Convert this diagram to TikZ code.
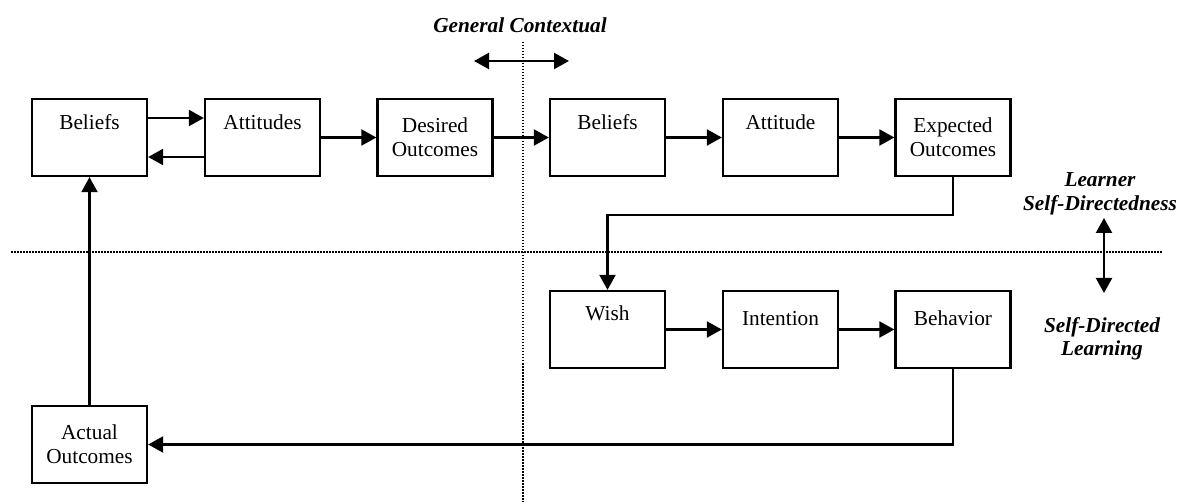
\documentclass[tikz,border=0pt]{standalone}
\usepackage{fontspec}
\setmainfont{Liberation Serif}
\usetikzlibrary{arrows.meta}
\begin{document}
\begin{tikzpicture}[x=1pt,y=-1pt,
  font=\fontsize{21.3}{25}\selectfont,
  box/.style={draw, line width=2.3pt, minimum width=115pt, minimum height=77pt, inner sep=0pt, align=center},
  topbox/.style={box, text height=31pt, text depth=46pt},
  lowbox/.style={box, text height=35pt, text depth=42pt},
  arr/.style={line width=2.2pt, -{Triangle[length=15pt,width=16pt]}},
  darr/.style={line width=2.2pt, {Triangle[length=15pt,width=16pt]}-{Triangle[length=15pt,width=16pt]}},
  dotline/.style={line width=1.5pt, dash pattern=on 1.5pt off 1.5pt},
  lab/.style={font=\fontsize{21.3}{25}\selectfont\bfseries\itshape, anchor=base}]
\useasboundingbox (0,0) rectangle (1181,502);
% dotted dividers
\coordinate (vt) at (523,42);
\coordinate (vb) at (523,502);
\coordinate (hl) at (11,252);
\coordinate (hr) at (1162,252);
\draw[dotline] (vt) -- (vb);
\draw[dotline] (hl) -- (hr);
% boxes
\node[topbox] (b1) at (89.5,137.5) {Beliefs};
\node[topbox] (at1) at (262.5,137.5) {Attitudes};
\node[box] (des) at (435,137.5) {Desired\\[-1pt]Outcomes};
\node[topbox] (b2) at (607.5,137.5) {Beliefs};
\node[topbox] (at2) at (780.5,137.5) {Attitude};
\node[box] (exp) at (953,137.5) {\raisebox{-3pt}{Expected}\\[-1pt]\raisebox{-3pt}{Outcomes}};
\node[box, text height=30pt, text depth=47pt] (wish) at (607.5,329.5) {Wish};
\node[lowbox] (int) at (780.5,329.5) {Intention};
\node[lowbox] (beh) at (953,329.5) {Behavior};
\node[box] (act) at (89.5,444.5) {Actual\\[-1pt]Outcomes};
% top row arrows
\draw[arr] (b1.east |- 0,118) -- (at1.west |- 0,118);
\draw[arr] (at1.west |- 0,157) -- (b1.east |- 0,157);
\draw[arr] (at1) -- (des);
\draw[arr] (des) -- (b2);
\draw[arr] (b2) -- (at2);
\draw[arr] (at2) -- (exp);
% expected -> wish
\draw[arr] (exp.south) -- (953,215) -- (607.5,215) -- (wish.north);
% bottom row
\draw[arr] (wish) -- (int);
\draw[arr] (int) -- (beh);
\draw[arr] (beh.south) -- (beh.south |- act.east) -- (act.east);
\draw[arr] (act.north) -- (b1.south);
% labels
\node[lab] (gc) at (520,33) {General Contextual};
\coordinate (gl) at (474,61);
\coordinate (gr) at (569,61);
\draw[darr] (gl) -- (gr);
\node[lab] (l1) at (1100,187) {Learner};
\node[lab] (l2) at (1100,211) {Self-Directedness};
\coordinate (vu) at (1104,218);
\coordinate (vd) at (1104,293);
\draw[darr] (vu) -- (vd);
\node[lab] (s1) at (1102,333) {Self-Directed};
\node[lab] (s2) at (1102,356) {Learning};
\end{tikzpicture}
\end{document}
